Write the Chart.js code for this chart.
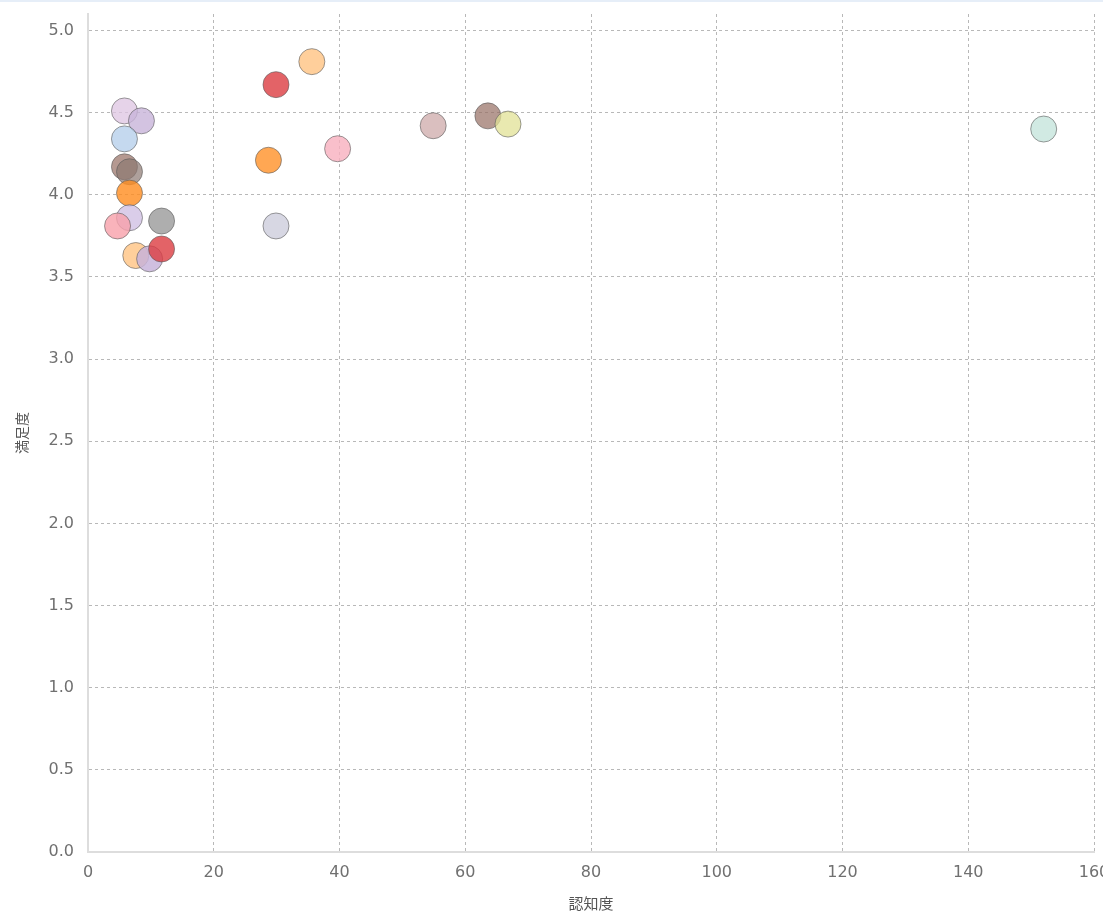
<!DOCTYPE html>
<html>
<head>
<meta charset="utf-8">
<script src="https://cdn.jsdelivr.net/npm/chart.js@4"></script>
<style>
  html, body { margin: 0; padding: 0; background: #fff; overflow: hidden; }
  #wrap { width: 1103px; height: 913px; position: relative; border-top: 2px solid #e6eef8; box-sizing: border-box; overflow: hidden; }
  #grafico { display: block; }
</style>
</head>
<body>
<div id="wrap"><canvas id="grafico" width="1103" height="911"></canvas></div>
<script>
// 認知度 (x) と 満足度 (y)
const ninchido = [5.8, 8.5, 5.8, 5.8, 6.6, 6.6, 6.6, 4.7, 11.7, 7.6, 9.8, 11.7,
                  29.9, 35.6, 28.7, 39.7, 29.9, 54.9, 63.6, 66.8, 152];
const manzokudo = [4.51, 4.45, 4.34, 4.17, 4.14, 4.01, 3.86, 3.81, 3.84, 3.63, 3.61, 3.67,
                   4.67, 4.81, 4.21, 4.28, 3.81, 4.42, 4.48, 4.43, 4.40];
const yTicks = [0, 0.5, 1, 1.5, 2, 2.5, 3, 3.5, 4, 4.5, 5];

const colores = [
  'rgba(222,196,226,0.75)', 'rgba(200,180,218,0.8)', 'rgba(178,204,234,0.75)',
  'rgba(150,110,98,0.7)', 'rgba(140,120,112,0.7)', 'rgba(255,140,30,0.8)',
  'rgba(205,188,225,0.75)', 'rgba(248,160,170,0.8)', 'rgba(140,140,140,0.7)',
  'rgba(255,195,130,0.8)', 'rgba(200,180,218,0.85)', 'rgba(220,60,65,0.8)',
  'rgba(220,60,65,0.8)', 'rgba(255,195,130,0.8)', 'rgba(255,145,40,0.8)',
  'rgba(248,175,190,0.8)', 'rgba(205,205,220,0.8)', 'rgba(205,170,170,0.75)',
  'rgba(150,110,98,0.7)', 'rgba(225,225,150,0.75)', 'rgba(190,225,215,0.7)'
];

const puntos = ninchido.map((x, i) => ({ x, y: manzokudo[i] }));
const fuente = "'DejaVu Sans', Verdana, sans-serif";

new Chart(document.getElementById('grafico'), {
  type: 'scatter',
  data: {
    datasets: [{
      data: puntos,
      backgroundColor: colores,
      borderColor: 'rgba(90,90,90,0.6)',
      borderWidth: 1,
      pointRadius: 13,
      pointHoverRadius: 13
    }]
  },
  options: {
    responsive: false,
    animation: false,
    layout: { autoPadding: false, padding: { top: 12, right: 9, left: 0, bottom: 0 } },
    plugins: { legend: { display: false }, tooltip: { enabled: false } },
    scales: {
      x: {
        min: 0, max: 160,
        ticks: { stepSize: 20, padding: 11, color: '#707070', maxRotation: 0, font: { family: fuente, size: 16 } },
        grid: { drawTicks: false, color: 'rgba(0,0,0,0.28)' },
        border: { color: '#ddd', width: 2, dash: [3, 3] },
        title: { display: true, text: '認知度', color: '#555',
                 font: { family: "'Noto Sans CJK JP'", size: 15 }, padding: { top: 0, bottom: 1 } },
        afterFit: s => { s.height = 61; s.paddingLeft = 0; s.paddingRight = 0; }
      },
      y: {
        min: 0, max: 5.1,
        afterBuildTicks: s => { s.ticks = yTicks.map(v => ({ value: v })); },
        ticks: { padding: 14, color: '#707070', font: { family: fuente, size: 16 },
                 callback: v => v.toFixed(1) },
        grid: { drawTicks: false, color: 'rgba(0,0,0,0.28)' },
        border: { color: '#ddd', width: 2, dash: [3, 3] },
        title: { display: true, text: '満足度', color: '#555',
                 font: { family: "'Noto Sans CJK JP'", size: 14 }, padding: { top: 13, bottom: 0 } },
        afterFit: s => { s.width = 88; s.paddingTop = 0; s.paddingBottom = 0; }
      }
    }
  }
});
</script>
</body>
</html>
